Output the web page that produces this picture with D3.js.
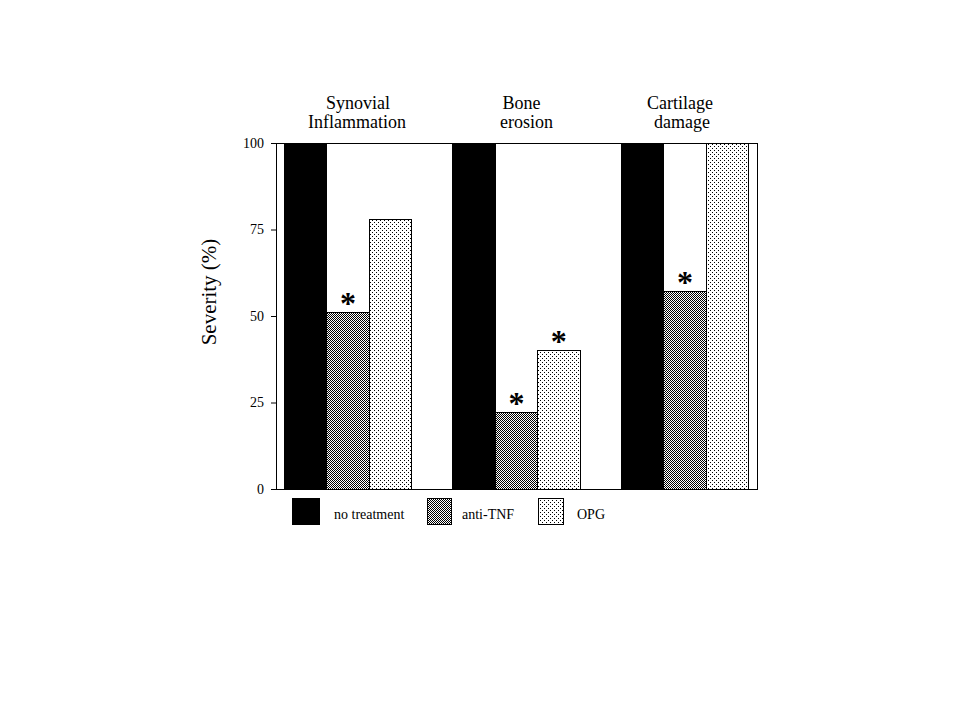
<!DOCTYPE html>
<html><head><meta charset="utf-8">
<script src="https://cdn.jsdelivr.net/npm/d3@7"></script>
<style>body{margin:0;background:#fff}svg{display:block}svg text{font-family:"Liberation Serif","DejaVu Serif",serif}</style>
</head><body>
<svg id="c" width="960" height="720"></svg>
<script>
const categories = [["Synovial","Inflammation"],["Bone","erosion"],["Cartilage","damage"]];
const series = ["no treatment","anti-TNF","OPG"];
const noTreatment = [100,100,100];
const antiTNF = [51,22,57];
const opg = [78,40,100];
const sigAntiTNF = [true,true,true];
const sigOPG = [false,true,false];
const yTicks = [0,25,50,75,100];

const svg = d3.select("#c");
const defs = svg.append("defs");
const chk = defs.append("pattern").attr("id","chk").attr("width",2).attr("height",2).attr("patternUnits","userSpaceOnUse");
chk.append("rect").attr("width",2).attr("height",2).attr("fill","#fff");
chk.append("rect").attr("width",1).attr("height",1).attr("fill","#000");
chk.append("rect").attr("x",1).attr("y",1).attr("width",1).attr("height",1).attr("fill","#000");
const dot = defs.append("pattern").attr("id","dot").attr("width",4).attr("height",4).attr("patternUnits","userSpaceOnUse");
dot.append("rect").attr("width",4).attr("height",4).attr("fill","#fff");
dot.append("rect").attr("width",1).attr("height",1).attr("fill","#000");
dot.append("rect").attr("x",2).attr("y",2).attr("width",1).attr("height",1).attr("fill","#000");
const fills = ["#000","url(#chk)","url(#dot)"];

const L=276,R=757,T=143,B=489;
const x0 = d3.scaleBand().domain(d3.range(categories.length)).range([L,R]).paddingInner(0.246).paddingOuter(0.05);
const x1 = d3.scaleBand().domain(d3.range(series.length)).range([0,x0.bandwidth()]);
const y = d3.scaleLinear().domain([0,100]).range([B,T]);

const vals = [noTreatment, antiTNF, opg];
const titleDx = [[10,9],[5,10],[-5,-3]];
const g = svg.append("g");
categories.forEach((c,i)=>{
  series.forEach((s,j)=>{
    g.append("rect")
      .attr("x",x0(i)+x1(j)).attr("y",y(vals[j][i]))
      .attr("width",x1.bandwidth()).attr("height",y(0)-y(vals[j][i]))
      .attr("fill",fills[j]).attr("stroke","#000").attr("stroke-width",1).attr("shape-rendering","crispEdges");
  });
  const sigs=[false,sigAntiTNF[i],sigOPG[i]];
  sigs.forEach((sg,j)=>{
    if(!sg) return;
    g.append("text").attr("x",x0(i)+x1(j)+x1.bandwidth()/2).attr("y",y(vals[j][i])+1)
      .attr("text-anchor","middle").attr("font-weight","bold")
      .attr("font-size",32).text("*");
  });
  const cx = x0(i)+x0.bandwidth()/2;
  c.forEach((ln,k)=>svg.append("text").attr("text-anchor","middle").attr("font-size",18)
    .attr("x",cx+titleDx[i][k]).attr("y",109+k*19).text(ln));
});

svg.append("rect").attr("x",L).attr("y",T).attr("width",R-L).attr("height",B-T)
  .attr("fill","none").attr("stroke","#000").attr("shape-rendering","crispEdges");

const ax = svg.append("g").attr("transform",`translate(${L},0)`)
  .call(d3.axisLeft(y).tickValues(yTicks).tickSize(5).tickPadding(7));
ax.select(".domain").remove();
ax.attr("font-family",null);
ax.selectAll("text").attr("font-size",14).attr("fill","#000");
ax.selectAll("line").attr("stroke","#000");

svg.append("text").attr("transform","translate(216,292) rotate(-90)").attr("text-anchor","middle")
  .attr("font-size",21).text("Severity (%)");

const legX = [292,427,538], legW=[27,24,25], legTX=[334,462,577];
series.forEach((s,j)=>{
  svg.append("rect").attr("x",legX[j]).attr("y",498).attr("width",legW[j]).attr("height",26)
    .attr("fill",fills[j]).attr("stroke","#000").attr("shape-rendering","crispEdges");
  svg.append("text").attr("x",legTX[j]).attr("y",519).attr("font-size",14).text(s);
});
</script>
</body></html>
